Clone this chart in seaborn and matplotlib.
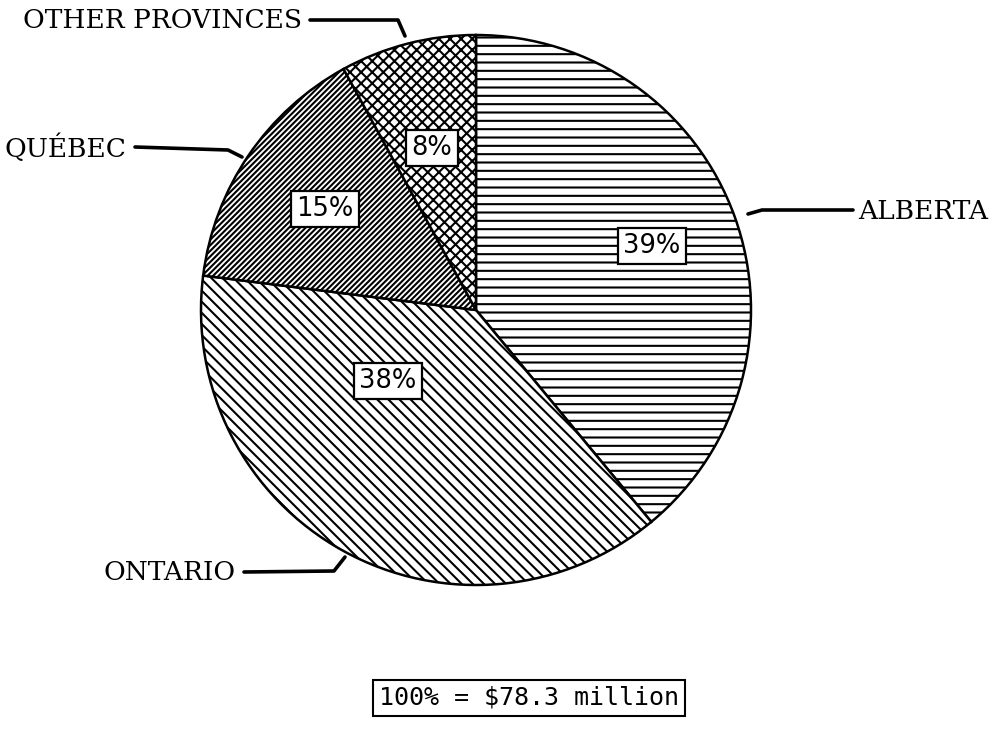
import seaborn as sns
import matplotlib.pyplot as plt

# data
provinces = ['ALBERTA', 'ONTARIO', 'QUÉBEC', 'OTHER PROVINCES']
shares = [39, 38, 15, 8]
BS = chr(92)  # backslash
hatches = ['--', BS * 3, '//////', 'xxx']
total_label = '100% = $78.3 million'

W, H = 1005, 729


def px(x, y):
    # pixel position (y down) -> data coords (y up)
    return x, H - y


sns.set_style('white')
plt.rcParams['font.family'] = ['DejaVu Serif', 'DejaVu Sans']
plt.rcParams['text.color'] = 'black'
plt.rcParams['hatch.linewidth'] = 1.5

fig = plt.figure(figsize=(W / 100, H / 100), dpi=100)
ax = fig.add_axes([0, 0, 1, 1])

wedges, _ = ax.pie(shares, startangle=90, counterclock=False, radius=275,
                   center=px(476, 310), colors=['white'] * len(shares),
                   wedgeprops={'edgecolor': 'black', 'linewidth': 1.8})
for w, h in zip(wedges, hatches):
    w.set_hatch(h)

ax.set_aspect('auto')
ax.set_xlim(0, W)
ax.set_ylim(0, H)
ax.axis('off')

# percentage boxes inside the slices
pct_pos = [(652, 246), (388, 381), (325, 209), (432, 148)]
for v, (x, y) in zip(shares, pct_pos):
    ax.text(*px(x, y), f'{v}%', ha='center', va='center', fontsize=18.5,
            family='DejaVu Sans', color='black',
            bbox=dict(boxstyle='square,pad=0.2', fc='white', ec='black', lw=1.6))

# outside labels with leader lines
labels = {
    'OTHER PROVINCES': dict(text=(302, 20), ha='right', line=[(310, 20), (398, 20), (405, 36)]),
    'QUÉBEC': dict(text=(126, 148), ha='right', line=[(135, 147), (228, 150), (242, 157)]),
    'ALBERTA': dict(text=(858, 211), ha='left', line=[(853, 210), (762, 210), (748, 214)]),
    'ONTARIO': dict(text=(236, 572), ha='right', line=[(244, 572), (334, 571), (345, 557)]),
}
for name in provinces:
    spec = labels[name]
    ax.text(*px(*spec['text']), name, ha=spec['ha'], va='center', fontsize=19,
            color='black')
    xs = [p[0] for p in spec['line']]
    ys = [H - p[1] for p in spec['line']]
    ax.plot(xs, ys, color='black', lw=2.6, solid_capstyle='round')

ax.text(*px(529, 698), total_label, ha='center', va='center', fontsize=18,
        family='DejaVu Sans Mono', color='black',
        bbox=dict(boxstyle='square,pad=0.25', fc='white', ec='black', lw=1.5))

fig.savefig('out.png', dpi=100)
